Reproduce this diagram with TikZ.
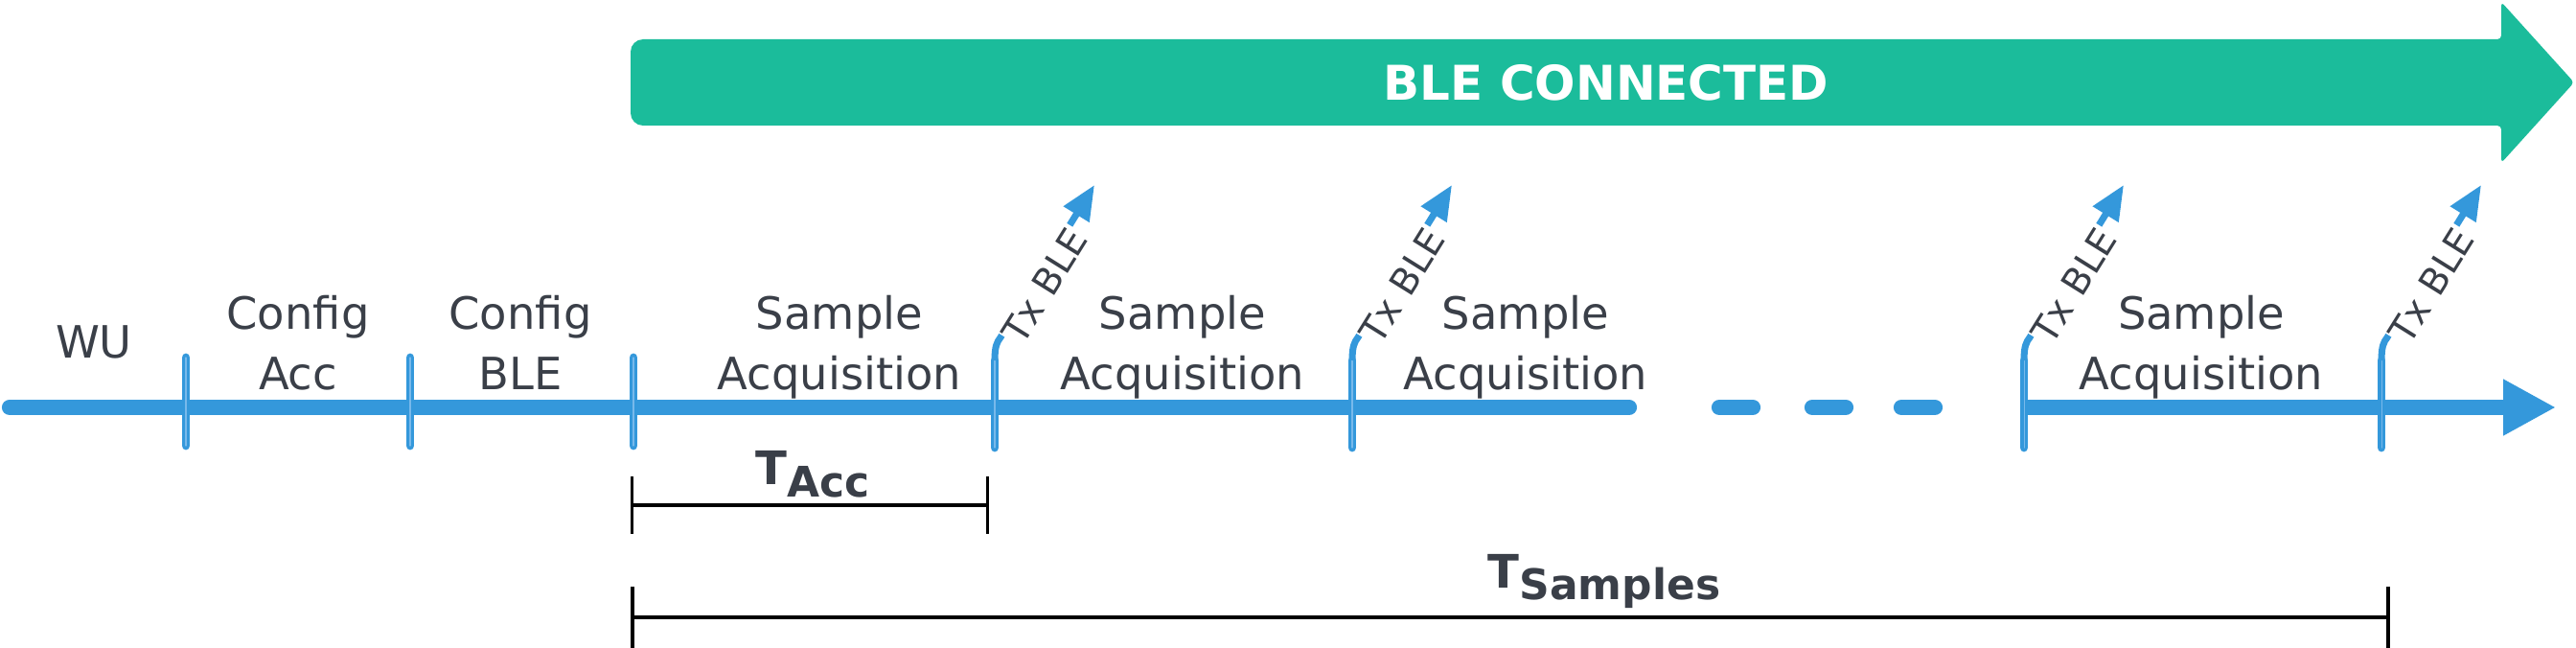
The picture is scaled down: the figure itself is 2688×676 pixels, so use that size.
\documentclass[tikz,border=0pt]{standalone}
\usepackage{fontspec}
\setmainfont{DejaVu Sans}
\usetikzlibrary{arrows.meta}

\definecolor{lineblue}{RGB}{52,152,219}
\definecolor{tickinner}{RGB}{120,185,235}
\definecolor{bleconn}{RGB}{27,188,155}
\definecolor{labelgray}{RGB}{58,63,72}

\begin{document}
\begin{tikzpicture}[x=0.01cm, y=-0.01cm,
	timeline/.style={line width=4.6pt, lineblue, line cap=round},
	tickmark/.style={line width=1.1pt, lineblue, double=tickinner, double distance=0.3pt, line cap=round},
	txarrow/.style={line width=2pt, lineblue, -{Triangle[length=0.36cm,width=0.3cm]}},
	phase/.style={anchor=base, align=center, text=labelgray, font=\fontsize{13.2}{17.9}\selectfont},
	txlabel/.style={text=labelgray, font=\fontsize{11}{12}\selectfont, fill=white, inner sep=0.5pt, rotate=58},
	banner/.style={text=white, font=\bfseries\fontsize{14.2}{16}\selectfont},
	span/.style={line width=0.9pt, black},
	spanlabel/.style={anchor=base, text=labelgray, font=\bfseries\fontsize{13.7}{16}\selectfont}]
	\useasboundingbox (0,0) rectangle (2688,676);

	% connected phase banner
	\fill[bleconn] (1600,131) [rounded corners=0.13cm] -- (658,131) -- (658,41) [rounded corners=0.04cm] -- (2610,41)
		-- (2610,2) -- (2686,86) -- (2610,170) -- (2610,131) -- cycle;
	\node[banner] (connected) at (1676,86) {BLE CONNECTED};

	% time line
	\draw[timeline] (10,425) -- (1700,425);
	\foreach \xa in {1794,1891,1984}
		\draw[timeline] (\xa,425) -- ++(35,0);
	\draw[timeline, line cap=butt, -{Triangle[length=0.55cm,width=0.55cm]}] (2112,425) -- (2667,425);

	% phase boundaries
	\foreach \xt in {194,428,661}
		\draw[tickmark] (\xt,373) -- (\xt,465);

	% transmissions
	\foreach \xt in {1038,1411,2112,2485} {
		\draw[tickmark] (\xt,467) -- (\xt,376);
		\draw[txarrow] (\xt,376) .. controls (\xt,362) and (\xt+2,357) .. (\xt+6,352) -- (\xt+104,193);
		\node[txlabel] (tx\xt) at (\xt+52,298) {Tx BLE};
	}

	% phase labels (base = last line)
	\node[phase] (wu) at (98,373) {WU};
	\node[phase] (cfgacc) at (311,406) {Config\\Acc};
	\node[phase] (cfgble) at (543,406) {Config\\BLE};
	\node[phase] (sample1) at (876,406) {Sample\\Acquisition};
	\node[phase] (sample2) at (1234,406) {Sample\\Acquisition};
	\node[phase] (sample3) at (1592,406) {Sample\\Acquisition};
	\node[phase] (sample4) at (2297,406) {Sample\\Acquisition};

	% accelerometer period
	\coordinate (acc-a) at (658,527);
	\coordinate (acc-b) at (1032,527);
	\draw[span, {Bar[width=0.6cm]}-{Bar[width=0.6cm]}] (acc-a) -- (acc-b);
	\node[spanlabel] (tacc) at (848,505) {T\raisebox{-0.13cm}{\fontsize{12.5}{14}\selectfont Acc}};

	% samples period
	\coordinate (smp-a) at (658,644);
	\coordinate (smp-b) at (2494,644);
	\draw[span, line width=1.1pt, {Bar[width=0.63cm]}-{Bar[width=0.63cm]}] (smp-a) -- (smp-b);
	\node[spanlabel] (tsmp) at (1674,613) {T\raisebox{-0.12cm}{\fontsize{12.5}{14}\selectfont Samples}};
\end{tikzpicture}
\end{document}
